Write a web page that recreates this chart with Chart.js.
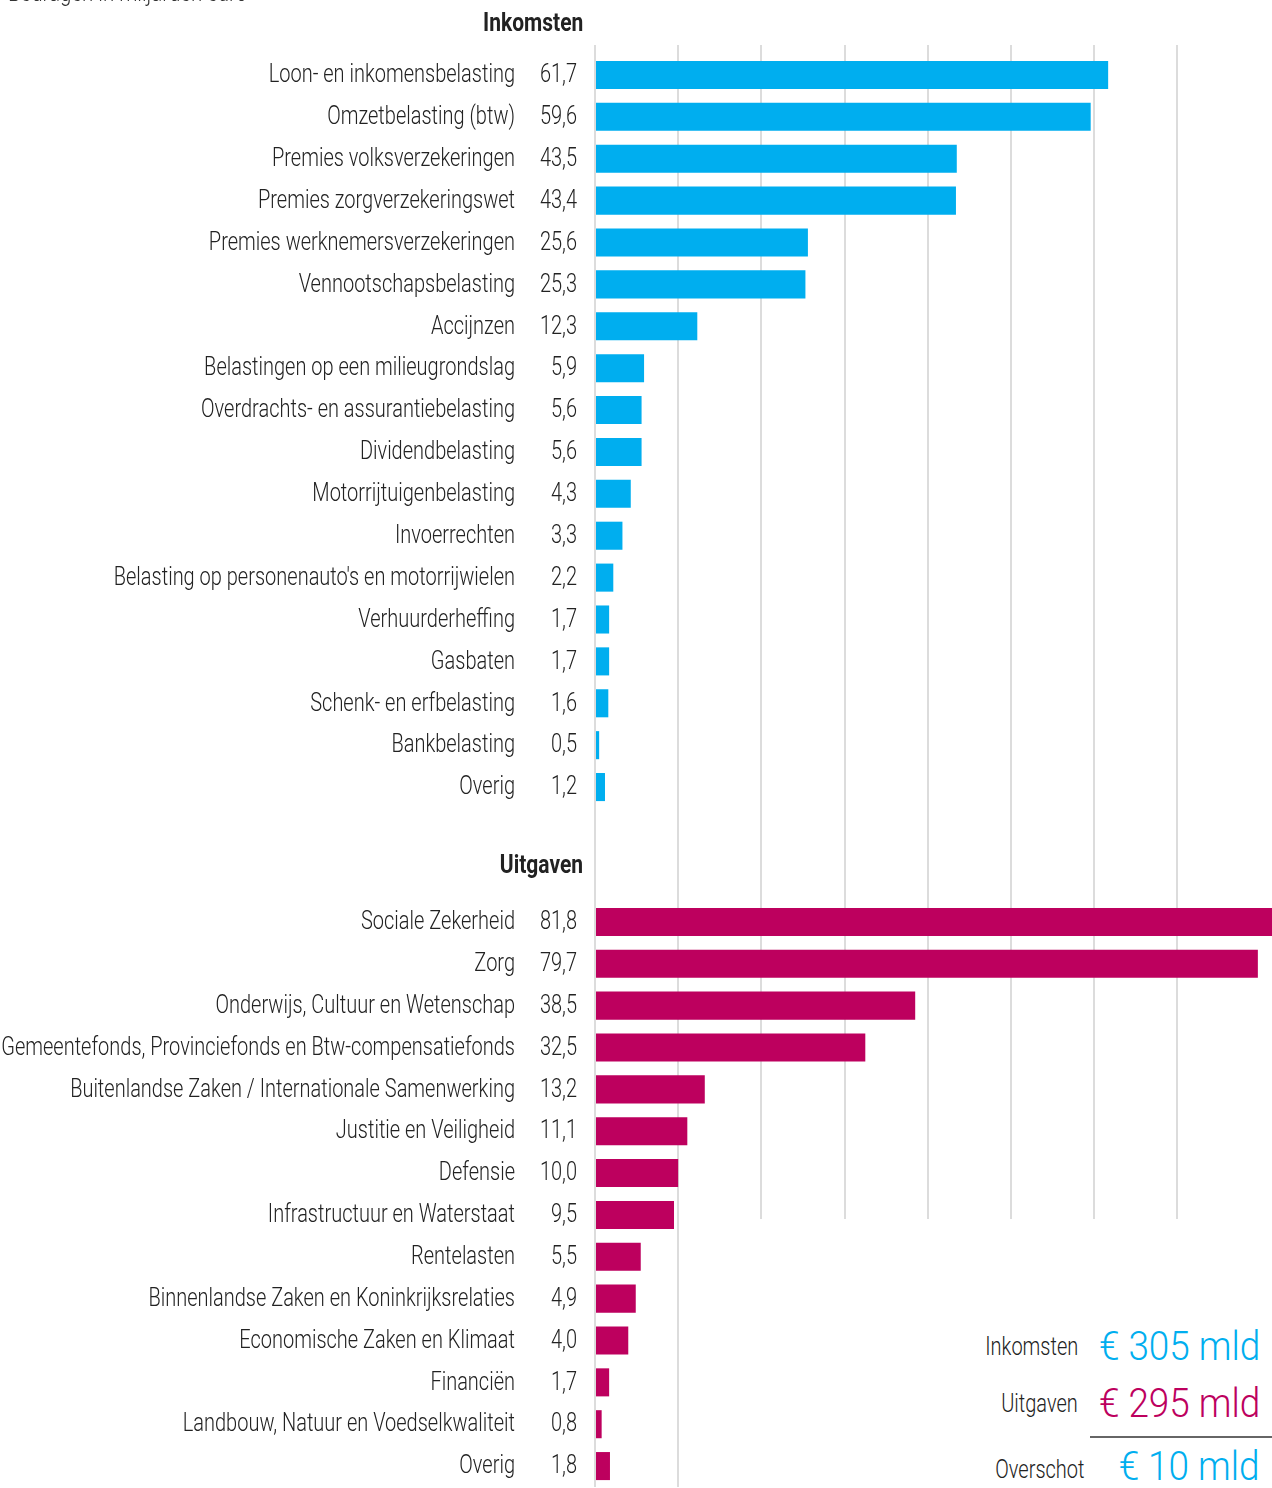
<!DOCTYPE html>
<html>
<head>
<meta charset="utf-8">
<script src="https://cdn.jsdelivr.net/npm/chart.js@4"></script>
<style>
  html, body { margin: 0; padding: 0; background: #fff; }
  body { width: 1272px; height: 1488px; position: relative; overflow: hidden;
         font-family: Roboto, sans-serif; font-weight: 300; color: #222; }
  #wrap { position: absolute; left: 0; top: 0; width: 1272px; height: 1488px; }
  .t { position: absolute; white-space: nowrap; line-height: 1; }
  .note { left: 8px; top: -20px; font-size: 25px; color: #333; transform: scaleX(0.82); transform-origin: left; }
  .head { right: 689px; font-size: 25px; font-weight: bold; color: #222; transform: scaleX(0.84); transform-origin: right; }
  #summary { position: absolute; left: 690px; top: 1219px; width: 582px; height: 269px; background: #fff; }
  .lab { right: 194px; font-size: 25px; color: #222; transform: scaleX(0.8); transform-origin: right; }
  .big { right: 12px; font-size: 41px; transform: scaleX(0.9); transform-origin: right; }
  .rule { position: absolute; left: 400px; right: 0; top: 217px; height: 0; border-top: 2px solid #666; }
</style>
</head>
<body>
<div id="wrap"><canvas id="chart" width="1272" height="1488"></canvas></div>
<div class="t note">Bedragen in miljarden euro</div>
<div class="t head" style="top:10px">Inkomsten</div>
<div class="t head" style="top:852px">Uitgaven</div>
<div id="summary">
  <div class="t lab" style="top:115px">Inkomsten</div>
  <div class="t big" style="top:107px;color:#00aeef">€ 305 mld</div>
  <div class="t lab" style="top:172px">Uitgaven</div>
  <div class="t big" style="top:164px;color:#bd005e">€ 295 mld</div>
  <div class="rule"></div>
  <div class="t lab" style="top:238px;right:188px">Overschot</div>
  <div class="t big" style="top:227px;color:#00aeef">€ 10 mld</div>
</div>
<script>
const incLabels = [
  'Loon- en inkomensbelasting', 'Omzetbelasting (btw)', 'Premies volksverzekeringen',
  'Premies zorgverzekeringswet', 'Premies werknemersverzekeringen', 'Vennootschapsbelasting',
  'Accijnzen', 'Belastingen op een milieugrondslag', 'Overdrachts- en assurantiebelasting',
  'Dividendbelasting', 'Motorrijtuigenbelasting', 'Invoerrechten',
  "Belasting op personenauto's en motorrijwielen", 'Verhuurderheffing', 'Gasbaten',
  'Schenk- en erfbelasting', 'Bankbelasting', 'Overig'
];
const incValues = [61.7, 59.6, 43.5, 43.4, 25.6, 25.3, 12.3, 5.9, 5.6, 5.6, 4.3, 3.3, 2.2, 1.7, 1.7, 1.6, 0.5, 1.2];

const expLabels = [
  'Sociale Zekerheid', 'Zorg', 'Onderwijs, Cultuur en Wetenschap',
  'Gemeentefonds, Provinciefonds en Btw-compensatiefonds',
  'Buitenlandse Zaken / Internationale Samenwerking', 'Justitie en Veiligheid', 'Defensie',
  'Infrastructuur en Waterstaat', 'Rentelasten', 'Binnenlandse Zaken en Koninkrijksrelaties',
  'Economische Zaken en Klimaat', 'Financiën', 'Landbouw, Natuur en Voedselkwaliteit', 'Overig'
];
const expValues = [81.8, 79.7, 38.5, 32.5, 13.2, 11.1, 10.0, 9.5, 5.5, 4.9, 4.0, 1.7, 0.8, 1.8];

const CYAN = '#00aeef';
const MAGENTA = '#bd005e';
const SX = 0.8; // squeeze Roboto towards the condensed face of the original

const fmt = v => v.toFixed(1).replace('.', ',');

function squeezed(ctx, text, x, y) {
  ctx.save();
  ctx.translate(x, y);
  ctx.scale(SX, 1);
  ctx.fillText(text, 0, 0);
  ctx.restore();
}

// category names and values left of the bars
const rowLabels = {
  id: 'rowLabels',
  afterDatasetsDraw(chart) {
    const ctx = chart.ctx;
    const left = chart.chartArea.left;
    ctx.save();
    ctx.font = '300 25px Roboto, sans-serif';
    ctx.fillStyle = '#222';
    ctx.textAlign = 'right';
    ctx.textBaseline = 'middle';
    [['yInc', incLabels, incValues], ['yExp', expLabels, expValues]].forEach(([id, names, vals]) => {
      const s = chart.scales[id];
      names.forEach((n, i) => {
        const y = s.getPixelForValue(i) + 1;
        squeezed(ctx, n, left - 80, y);
        squeezed(ctx, fmt(vals[i]), left - 18, y);
      });
    });
    ctx.restore();
  }
};

const fixWidth = s => { s.width = 595; };
const catAxis = (labels, weight) => ({
  type: 'category',
  labels,
  position: 'left',
  stack: 'rows',
  stackWeight: weight,
  offset: true,
  grid: { display: false, drawTicks: false },
  border: { display: false },
  ticks: { display: false },
  afterFit: fixWidth
});

new Chart(document.getElementById('chart'), {
  type: 'bar',
  data: {
    datasets: [
      { label: 'Inkomsten', data: incValues, yAxisID: 'yInc', backgroundColor: CYAN,
        grouped: false, categoryPercentage: 1, barPercentage: 0.67 },
      { label: 'Uitgaven', data: expValues, yAxisID: 'yExp', backgroundColor: MAGENTA,
        grouped: false, categoryPercentage: 1, barPercentage: 0.67 }
    ]
  },
  options: {
    indexAxis: 'y',
    responsive: false,
    animation: false,
    layout: { padding: { top: 45, bottom: 1, left: 0, right: 0 } },
    plugins: { legend: { display: false }, tooltip: { enabled: false } },
    scales: {
      x: {
        type: 'linear',
        position: 'top',
        min: 0,
        max: 81.4,
        grid: { color: '#dcdcdc', lineWidth: 2, drawTicks: true, tickLength: 9 },
        border: { display: false },
        ticks: { display: false, stepSize: 10 },
        afterBuildTicks: s => { s.ticks = s.ticks.filter(t => t.value % 10 === 0); }
      },
      // left boxes of one stack are laid out in reverse order of definition
      yExp: catAxis(expLabels, 586),
      yGap: catAxis([''], 93),
      yInc: catAxis(incLabels, 754)
    }
  },
  plugins: [rowLabels]
});
</script>
</body>
</html>
